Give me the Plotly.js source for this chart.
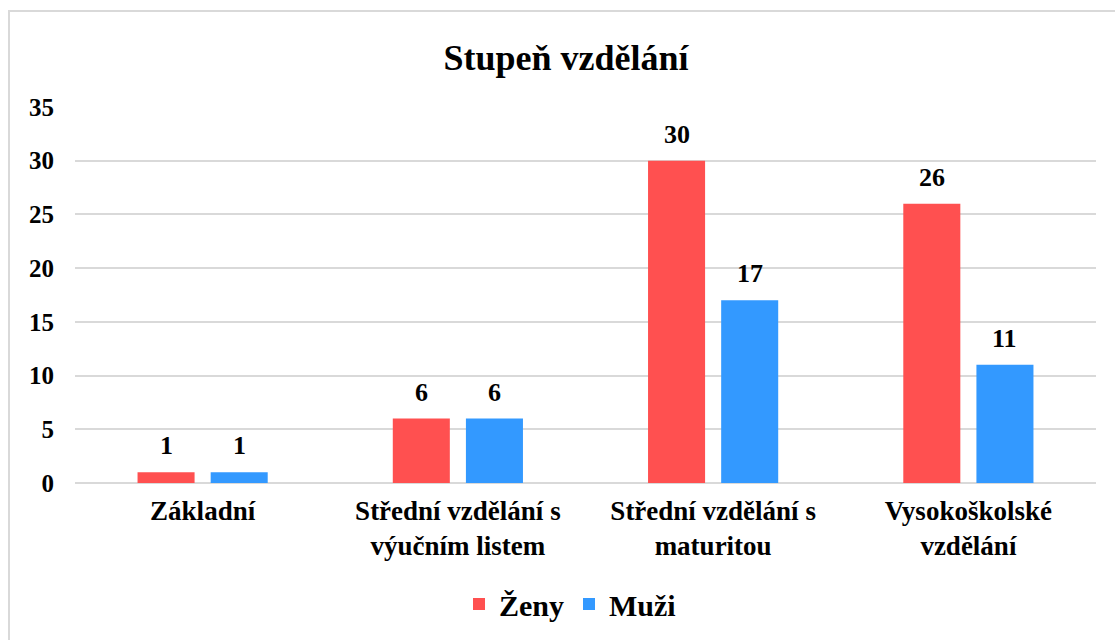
<!DOCTYPE html>
<html>
<head>
<meta charset="utf-8">
<script src="https://cdn.plot.ly/plotly-3.0.1.min.js"></script>
<style>
  html, body { margin: 0; padding: 0; background: #fff; }
  #wrap { position: relative; width: 1115px; height: 640px; overflow: hidden; }
  #chart { width: 1115px; height: 640px; }
  #frame { position: absolute; left: 8px; top: 10px; width: 1200px; height: 700px;
           border: 2px solid #d9d9d9; pointer-events: none; box-sizing: border-box; }
</style>
</head>
<body>
<div id="wrap">
  <div id="chart"></div>
  <div id="frame"></div>
</div>
<script>
const categories = [
  "Základní",
  "Střední vzdělání s<br>výučním listem",
  "Střední vzdělání s<br>maturitou",
  "Vysokoškolské<br>vzdělání"
];
const zeny = [1, 6, 30, 26];
const muzi = [1, 6, 17, 11];
const seriesNames = ["Ženy", "Muži"];
const colors = ["#FF5050", "#3399FF"];

const fam = "Liberation Serif";
function f(size) { return { family: fam, size: size, color: "#000", weight: "bold" }; }

const traces = [zeny, muzi].map((vals, i) => ({
  type: "bar",
  name: seriesNames[i],
  x: categories,
  y: vals,
  marker: { color: colors[i] },
  hoverinfo: "none"
}));

const annotations = [];
[zeny, muzi].forEach((vals, i) => {
  vals.forEach((v, j) => {
    annotations.push({
      x: categories[j], y: v, xref: "x", yref: "y",
      text: String(v), showarrow: false,
      xshift: i === 0 ? -36.5 : 36.5, yanchor: "bottom", yshift: 10,
      font: f(26)
    });
  });
});

const layout = {
  width: 1115, height: 640,
  font: { family: fam, color: "#000", weight: "bold" },
  margin: { l: 75, r: 19, t: 107, b: 157, autoexpand: false },
  paper_bgcolor: "#fff", plot_bgcolor: "#fff",
  title: {
    text: "Stupeň vzdělání",
    font: f(36),
    x: 566 / 1115, xanchor: "center", xref: "container",
    y: 1 - 57 / 640, yanchor: "middle", yref: "container"
  },
  barmode: "group",
  bargap: 0.427,
  bargroupgap: 0.22,
  xaxis: {
    tickfont: f(27),
    ticklabelstandoff: 9,
    showgrid: false, showline: false, zeroline: false, ticks: "",
    fixedrange: true, automargin: false
  },
  yaxis: {
    range: [0, 35], dtick: 5, tick0: 0,
    tickfont: f(25),
    ticklabelstandoff: 20,
    showgrid: true, gridcolor: "#d9d9d9", gridwidth: 2,
    zeroline: true, zerolinecolor: "#d9d9d9", zerolinewidth: 2,
    showline: false, ticks: "", fixedrange: true, automargin: false
  },
  legend: {
    orientation: "h", x: 570 / 1115, xanchor: "center", xref: "container",
    y: 1 - 604 / 640, yanchor: "middle", yref: "container",
    font: f(30),
    itemwidth: 30, tracegroupgap: 0
  },
  showlegend: true,
  annotations: annotations
};

Plotly.newPlot("chart", traces, layout, { displayModeBar: false, staticPlot: true });
</script>
</body>
</html>
